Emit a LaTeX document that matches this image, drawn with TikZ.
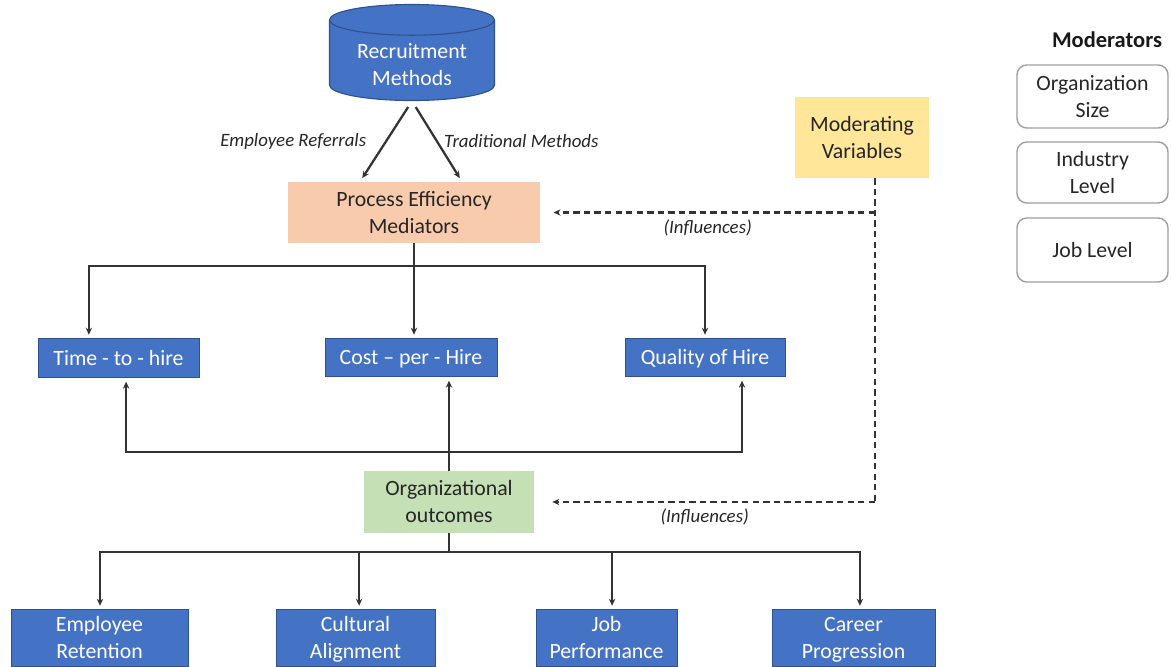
\documentclass[tikz,border=0pt]{standalone}
\usepackage{fontspec}
\setmainfont{Carlito}
\usetikzlibrary{shapes.geometric,arrows.meta,positioning,calc}
\usepackage{xcolor}

\definecolor{boxblue}{HTML}{4472C4}
\definecolor{boxedge}{HTML}{2F528F}
\definecolor{peach}{HTML}{F8CBAD}
\definecolor{sand}{HTML}{FFE699}
\definecolor{sage}{HTML}{C5E0B4}
\definecolor{linegray}{HTML}{333333}

\newcommand\boxfont{\fontsize{15.5}{19.2}\selectfont}
\newcommand\labfont{\fontsize{13.4}{15}\selectfont\itshape}

\tikzset{
  bluebox/.style={rectangle, fill=boxblue, draw=boxedge, line width=0.6pt, text=white,
    align=center, font=\boxfont, inner sep=0pt, text depth=0pt},
  softbox/.style={rectangle, align=center, font=\boxfont, text=black!85, inner sep=0pt},
  modbox/.style={rectangle, rounded corners=7pt, draw=gray!75, line width=1pt, fill=white,
    align=center, font=\boxfont, text=black!85, minimum width=3.775cm, inner sep=0pt},
  arr/.style={-{Stealth[length=5pt,width=4.5pt]}, line width=1.6pt, draw=linegray},
  link/.style={line width=1.6pt, draw=linegray},
  infl/.style={dash pattern=on 4.5pt off 3pt, line width=1.6pt, draw=linegray},
  lab/.style={font=\labfont, text=black!85}
}

\begin{document}
\begin{tikzpicture}[x=0.025cm, y=-0.025cm]

  \useasboundingbox (0,0) rectangle (1171,666);

  % source and mediators
  \node (rec) [cylinder, shape border rotate=90, aspect=0.28, minimum width=4.125cm,
    minimum height=2.4cm, fill=boxblue, draw=boxedge, line width=0.8pt, text=white,
    font=\boxfont, inner sep=0pt, anchor=shape center] at (412,52.5)
    {\raisebox{-0.28cm}[0pt][0pt]{\begin{tabular}{@{}c@{}}Recruitment\\Methods\end{tabular}}};
  \node (pem) [softbox, fill=peach, minimum width=6.3cm, minimum height=1.525cm] at (414,212.5)
    {Process Efficiency\\Mediators};
  \node (modv) [softbox, fill=sand, minimum width=3.35cm, minimum height=2.025cm] at (862,137.5)
    {Moderating\\Variables};

  % process measures
  \node (time) [bluebox, minimum width=4.025cm, minimum height=0.975cm] at (118.5,357.5) {Time - to - hire};
  \node (cost) [bluebox, minimum width=4.3cm, minimum height=0.95cm] at (411,357) {Cost -- per - Hire};
  \node (qual) [bluebox, minimum width=4cm, minimum height=0.95cm] at (705,357) {Quality of Hire};

  \node (org) [softbox, fill=sage, minimum width=4.25cm, minimum height=1.55cm] at (449,502)
    {Organizational\\outcomes};

  % outcome boxes
  \node (emp) [bluebox, minimum width=4.425cm, minimum height=1.425cm] at (99.5,637.5) {Employee\\Retention};
  \node (cult) [bluebox, minimum width=3.975cm, minimum height=1.425cm] at (355.5,637.5) {Cultural\\Alignment};
  \node (job) [bluebox, minimum width=3.525cm, minimum height=1.425cm] at (606.5,637.5) {Job\\Performance};
  \node (car) [bluebox, minimum width=4.075cm, minimum height=1.425cm] at (853.5,637.5) {Career\\Progression};

  % moderators legend
  \node (modt) [font=\fontsize{16}{19}\selectfont\bfseries, text=black!90] at (1107,40) {Moderators};
  \node (ms1) [modbox, minimum height=1.575cm] at (1092.5,96.5) {Organization\\Size};
  \node (ms2) [modbox, minimum height=1.525cm] at (1092.5,172.5) {Industry\\Level};
  \node (ms3) [modbox, minimum height=1.6cm] at (1092.5,250) {Job Level};

  % recruitment methods
  \draw[arr, shorten <=5pt, shorten >=3pt] (rec.south) -- node[lab, left, xshift=-10pt] {Employee Referrals} ([xshift=-1.35cm]pem.north);
  \draw[arr, shorten <=5pt, shorten >=3pt] (rec.south) -- node[lab, right, xshift=1pt] {Traditional Methods} ([xshift=1.2cm]pem.north);

  % mediators to measures
  \coordinate (tsplit) at (pem.south |- 0,266);
  \draw[link] (pem.south) -- (tsplit);
  \draw[arr, shorten >=2pt] (tsplit) -| ([xshift=-0.74cm]time.north);
  \draw[arr, shorten >=2pt] (tsplit) -- (tsplit |- cost.north);
  \draw[arr, shorten >=2pt] (tsplit) -| (qual.north);

  % outcomes back to measures
  \coordinate (bsplit) at (org.north |- 0,452);
  \draw[arr, shorten >=3pt] (org.north) -- (org.north |- cost.south);
  \draw[arr, shorten >=3pt] (bsplit) -| ([xshift=0.19cm]time.south);
  \draw[arr, shorten >=3pt] (bsplit) -| ([xshift=0.925cm]qual.south);

  % outcomes to results
  \coordinate (osplit) at (org.south |- 0,552);
  \draw[link] (org.south) -- (osplit);
  \draw[arr, shorten >=2pt] (osplit) -| ([xshift=0.0125cm]emp.north);
  \draw[arr, shorten >=2pt] (osplit) -| ([xshift=0.09cm]cult.north);
  \draw[arr, shorten >=2pt] (osplit) -| ([xshift=0.14cm]job.north);
  \draw[arr, shorten >=2pt] (osplit) -| ([xshift=0.16cm]car.north);

  % moderating influences
  \coordinate (dtop) at ([xshift=0.325cm]modv.south);
  \coordinate (dbot) at (dtop |- org.east);
  \draw[infl] (dtop) -- (dbot);
  \draw[infl, arr, shorten >=0.33cm] (dtop |- pem.east) -- node[lab, below, yshift=-1pt] {(Influences)} (pem.east);
  \draw[infl, arr, shorten >=0.45cm] (dbot) -- node[lab, below, yshift=-1pt] {(Influences)} (org.east);

\end{tikzpicture}
\end{document}
